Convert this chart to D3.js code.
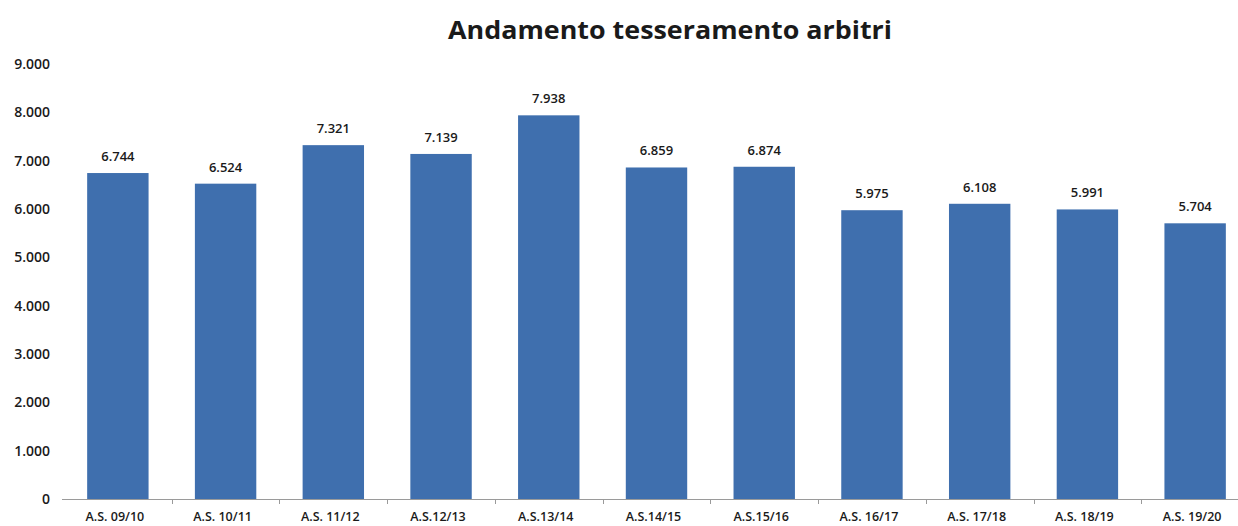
<!DOCTYPE html>
<html>
<head>
<meta charset="utf-8">
<script src="https://cdn.jsdelivr.net/npm/d3@7"></script>
<style>
  body { margin: 0; background: #fff; }
  text { font-family: "Open Sans", "DejaVu Sans", sans-serif; fill: #1a1a1a; }
</style>
</head>
<body>
<svg id="chart" width="1238" height="526"></svg>
<script>
// dati
var categories = ["A.S. 09/10", "A.S. 10/11", "A.S. 11/12", "A.S.12/13", "A.S.13/14",
                  "A.S.14/15", "A.S.15/16", "A.S. 16/17", "A.S. 17/18", "A.S. 18/19", "A.S. 19/20"];
var values = [6744, 6524, 7321, 7139, 7938, 6859, 6874, 5975, 6108, 5991, 5704];
var yTicks = [0, 1000, 2000, 3000, 4000, 5000, 6000, 7000, 8000, 9000];
var title = "Andamento tesseramento arbitri";

var it = d3.formatLocale({decimal: ",", thousands: ".", grouping: [3], currency: ["", ""]});
var fmt = it.format(",d");

var svg = d3.select("#chart");
var x = d3.scaleBand().domain(categories).range([64, 1249]).paddingInner(0.43).paddingOuter(0.215);
var y = d3.scaleLinear().domain([0, 9000]).range([499, 64]);

svg.append("text")
    .attr("x", 670).attr("y", 39)
    .attr("text-anchor", "middle")
    .attr("textLength", 444)
    .attr("lengthAdjust", "spacingAndGlyphs")
    .style("font-size", "25px").style("font-weight", 700)
    .text(title);

// asse y (solo etichette)
var yAxis = svg.append("g").attr("transform", "translate(50,0)")
    .call(d3.axisLeft(y).tickValues(yTicks).tickSize(0).tickPadding(0).tickFormat(fmt));
yAxis.select(".domain").remove();
yAxis.selectAll("text").style("font-size", "14px").style("font-weight", 600)
    .style("font-family", "\"Open Sans\", sans-serif").style("fill", "#1a1a1a");

// barre
svg.append("g").selectAll("rect")
    .data(values)
  .enter().append("rect")
    .attr("x", function(d, i) { return x(categories[i]); })
    .attr("y", function(d) { return y(d); })
    .attr("width", x.bandwidth())
    .attr("height", function(d) { return y(0) - y(d); })
    .attr("fill", "#3f6fae");

svg.append("g").selectAll("text")
    .data(values)
  .enter().append("text")
    .attr("x", function(d, i) { return x(categories[i]) + x.bandwidth() / 2; })
    .attr("y", function(d) { return y(d) - 12; })
    .attr("text-anchor", "middle")
    .style("font-size", "13px").style("font-weight", 600)
    .text(function(d) { return fmt(d); });

// asse x
svg.append("line")
    .attr("x1", 62).attr("x2", 1238)
    .attr("y1", y(0) + 0.5).attr("y2", y(0) + 0.5)
    .attr("stroke", "#9a9a9a").attr("stroke-width", 1);

svg.append("g").selectAll("line")
    .data(categories.slice(1))
  .enter().append("line")
    .attr("x1", function(d) { return Math.round(x(d) - x.step() * x.paddingInner() / 2) + 0.5; })
    .attr("x2", function(d) { return Math.round(x(d) - x.step() * x.paddingInner() / 2) + 0.5; })
    .attr("y1", y(0)).attr("y2", y(0) + 5)
    .attr("stroke", "#9a9a9a");

svg.append("g").selectAll("text")
    .data(categories)
  .enter().append("text")
    .attr("x", function(d) { return x(d) + x.bandwidth() / 2 - 3; })
    .attr("y", 521)
    .attr("text-anchor", "middle")
    .style("font-size", "12.5px").style("font-weight", 600)
    .text(function(d) { return d; });
</script>
</body>
</html>
